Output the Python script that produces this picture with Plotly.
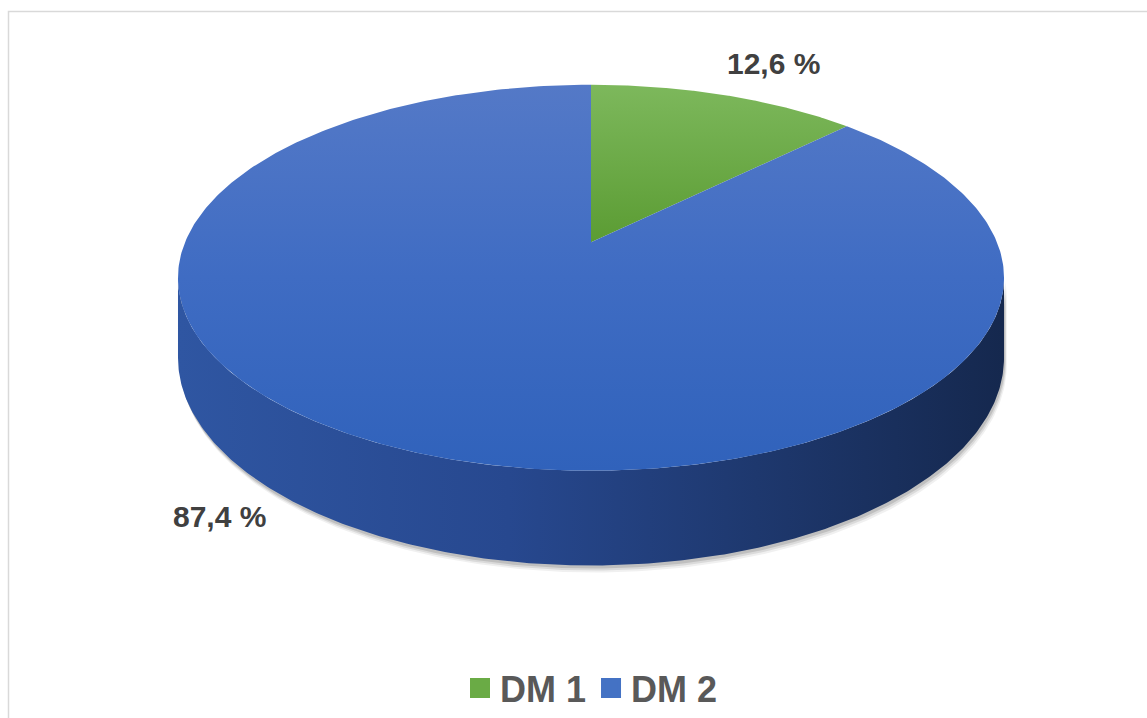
import numpy as np
import plotly.graph_objects as go

# ---- data ----
categories = ["DM 1", "DM 2"]
values = [12.6, 87.4]
value_labels = ["12,6 %", "87,4 %"]

# ---- styles ----
top_scales = [
    [[0, "#7db85c"], [1, "#5b9c33"]],
    [[0, "#5479c7"], [0.5, "#3f6cc3"], [1, "#3062bb"]],
]
side_scale = [[0, "#2f56a2"], [0.4, "#27488f"], [0.7, "#1e386e"], [1, "#15284e"]]
legend_colors = ["#6aab45", "#4472c4"]

W, H = 1147, 718
CX, CY = 591.0, 243.0      # pie centre on screen
C = 0.1835                 # perspective factor
A = 406.0                  # horizontal radius
B = 187.0                  # depth radius
D = 77.6                   # thickness

def proj(theta_deg, depth=0.0, r=1.0):
    t = np.radians(theta_deg)
    X = r * np.sin(t)
    Z = -r * np.cos(t)
    s = 1.0 / (1.0 - C * Z)
    return CX + A * X * s, CY + B * Z * s + D * depth * s

fig = go.Figure()

total = float(sum(values))
bounds = np.concatenate([[0], np.cumsum(values) / total * 360.0])

# visible side range (front half between silhouettes)
th_r = np.degrees(np.arccos(-C))
th_l = 360 - th_r

# shadow layers
for off, op in [(7, 0.06), (5, 0.09), (3, 0.12)]:
    for i in range(len(values)):
        a0, a1 = max(bounds[i], th_r), min(bounds[i + 1], th_l)
        if a1 <= a0:
            continue
        th = np.linspace(a0, a1, 200)
        xt, yt = proj(th, 0)
        xb, yb = proj(th[::-1], 1)
        xs = np.concatenate([xt, xb]) + off * 0.4
        ys = np.concatenate([yt, yb]) + off
        fig.add_trace(go.Scatter(x=xs, y=ys, mode="lines", fill="toself",
                                 fillcolor=f"rgba(0,0,0,{op})", line=dict(width=0),
                                 hoverinfo="skip", showlegend=False))

# side walls
for i in range(len(values)):
    a0, a1 = max(bounds[i], th_r), min(bounds[i + 1], th_l)
    if a1 <= a0:
        continue
    th = np.linspace(a0, a1, 300)
    xt, yt = proj(th, 0)
    xb, yb = proj(th[::-1], 1)
    xs = np.concatenate([xt, xb])
    ys = np.concatenate([yt, yb])
    fig.add_trace(go.Scatter(x=xs, y=ys, mode="lines", fill="toself",
                             fillgradient=dict(type="horizontal", colorscale=side_scale,
                                               start=float(xs.min()), stop=float(xs.max())),
                             line=dict(width=0), hoverinfo="skip", showlegend=False))

# top faces
_, yfront = proj(180.0)
for i in range(len(values)):
    th = np.linspace(bounds[i], bounds[i + 1], 400)
    xa, ya = proj(th)
    xs = np.concatenate([[CX], xa, [CX]])
    ys = np.concatenate([[CY], ya, [CY]])
    fig.add_trace(go.Scatter(x=xs, y=ys, mode="lines", fill="toself",
                             fillgradient=dict(type="vertical", colorscale=top_scales[i],
                                               start=float(ys.min()),
                                               stop=float(ys.max()) if i == 0 else float(yfront)),
                             line=dict(width=0), name=categories[i],
                             hoverinfo="name", showlegend=False))

# value labels
label_pos = [(773, 64), (219, 518)]
for txt, (lx, ly) in zip(value_labels, label_pos):
    fig.add_annotation(x=lx, y=ly, text=f"<b>{txt}</b>", showarrow=False,
                       font=dict(family="Liberation Sans, Arial", size=30, color="#404040"),
                       xanchor="center", yanchor="middle")

# legend entries
for name, col in zip(categories, legend_colors):
    fig.add_trace(go.Scatter(x=[None], y=[None], mode="markers", name=f"<b>{name}</b>",
                             marker=dict(symbol="square", size=20, color=col,
                                         line=dict(color=col, width=4))))

fig.update_layout(
    width=W, height=H,
    margin=dict(l=0, r=0, t=0, b=0),
    paper_bgcolor="white", plot_bgcolor="white",
    xaxis=dict(range=[0, W], visible=False, fixedrange=True),
    yaxis=dict(range=[H, 0], visible=False, fixedrange=True),
    showlegend=True,
    legend=dict(orientation="h", x=0.5 + 18 / W, xanchor="center", y=1 - 690 / H, yanchor="middle",
                font=dict(family="Liberation Sans, Arial", size=36, color="#595959"),
                itemsizing="trace", itemwidth=30, tracegroupgap=0,
                bgcolor="rgba(0,0,0,0)"),
    shapes=[dict(type="rect", xref="paper", yref="paper",
                 x0=8.5 / W, x1=1.2, y0=-0.2, y1=1 - 11.5 / H,
                 line=dict(color="#d9d9d9", width=1.5), fillcolor="rgba(0,0,0,0)", layer="below")],
)

fig.write_html("out.html", config={"displayModeBar": False},
               post_script="document.body.style.margin='0';document.body.style.overflow='hidden';")
